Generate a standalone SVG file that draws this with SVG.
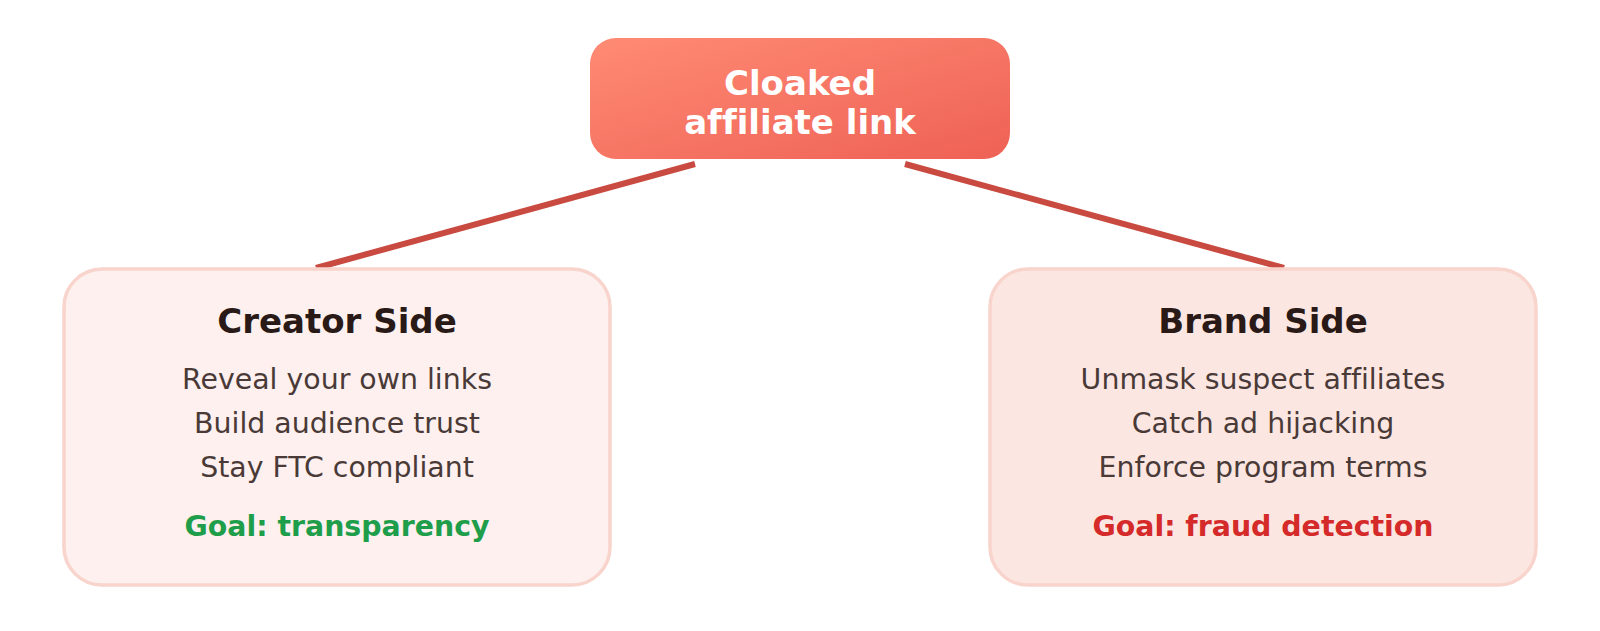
<svg xmlns="http://www.w3.org/2000/svg" width="1600" height="631" viewBox="0 0 1600 631">
<defs>
<linearGradient id="topGrad" x1="0" y1="0" x2="1" y2="1">
<stop offset="0" stop-color="#FF8B74"/>
<stop offset="1" stop-color="#EE6155"/>
</linearGradient>
<style>
text{font-family:"DejaVu Sans",Verdana,sans-serif;text-anchor:middle;font-variant-ligatures:none;font-feature-settings:"liga" 0}
.top{font-size:34px;font-weight:bold;fill:#FFFFFF}
.title{font-size:34px;font-weight:bold;fill:#2A1A17}
.body{font-size:28.4px;fill:#4A3A37}
.goal{font-size:28.4px;font-weight:bold}
.side{stroke:#F8D4CC;stroke-width:3.5}
.conn{stroke:#C84A40;stroke-width:6;fill:none}
</style>
</defs>
<rect width="1600" height="631" fill="#FFFFFF"/>
<g id="connectors">
<line class="conn" x1="695" y1="164" x2="316" y2="268"/>
<line class="conn" x1="905" y1="164" x2="1284" y2="268"/>
</g>
<g id="node-cloaked">
<rect x="590" y="38" width="420" height="121" rx="26" fill="url(#topGrad)"/>
<text class="top" x="800" y="95">Cloaked</text>
<text class="top" x="800" y="134">affiliate link</text>
</g>
<g id="node-creator">
<rect class="side" x="64" y="269" width="546" height="316" rx="38" fill="#FDF0EE"/>
<text class="title" x="337" y="333">Creator Side</text>
<text class="body" x="337" y="389">Reveal your own links</text>
<text class="body" x="337" y="433">Build audience trust</text>
<text class="body" x="337" y="477">Stay FTC compliant</text>
<text class="goal" x="337" y="536" fill="#1E9E4A">Goal: transparency</text>
</g>
<g id="node-brand">
<rect class="side" x="990" y="269" width="546" height="316" rx="38" fill="#FCE6E2"/>
<text class="title" x="1263" y="333">Brand Side</text>
<text class="body" x="1263" y="389">Unmask suspect affiliates</text>
<text class="body" x="1263" y="433">Catch ad hijacking</text>
<text class="body" x="1263" y="477">Enforce program terms</text>
<text class="goal" x="1263" y="536" fill="#D42A2A">Goal: fraud detection</text>
</g>
</svg>
